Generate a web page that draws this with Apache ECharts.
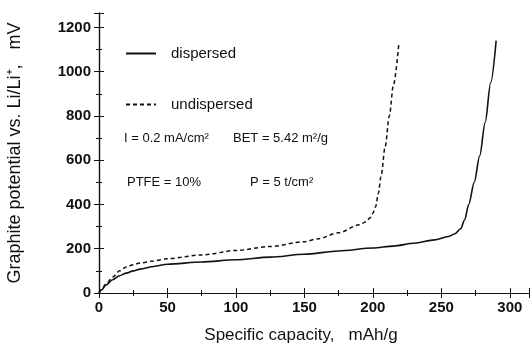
<!DOCTYPE html>
<html>
<head>
<meta charset="utf-8">
<script src="https://cdn.jsdelivr.net/npm/echarts@6/dist/echarts.min.js"></script>
<style>
  html, body { margin: 0; padding: 0; background: #fff; }
  #chart { width: 531px; height: 344px; }
</style>
</head>
<body>
<div id="chart"></div>
<script>
// capacity (mAh/g) vs potential (mV)
const dispersedX = [0, 2, 5, 10, 15, 20, 25, 30, 40, 50, 75, 100, 125, 150, 175, 200, 215, 230, 245, 255, 260, 264, 267, 270, 274, 278, 282, 286, 290]
const dispersedY = [0, 15, 35, 60, 78, 90, 100, 108, 120, 130, 140, 150, 162, 175, 190, 203, 212, 225, 240, 255, 268, 290, 330, 400, 500, 620, 770, 950, 1140]

const undispersedX = [0, 2, 5, 10, 15, 20, 25, 30, 40, 50, 75, 100, 125, 150, 160, 175, 190, 195, 198, 200, 202, 204, 206, 209, 212, 215, 219]
const undispersedY = [0, 18, 40, 72, 100, 118, 128, 136, 145, 155, 172, 192, 210, 232, 245, 272, 308, 322, 340, 360, 390, 450, 530, 662, 800, 940, 1130]

const seriesNames = ['dispersed', 'undispersed']
// conditions printed inside the plot
const notes = [
  { text: 'I = 0.2 mA/cm\u00B2', left: 124, top: 132 },
  { text: 'BET = 5.42 m\u00B2/g', left: 233, top: 132 },
  { text: 'PTFE = 10%', left: 127, top: 176 },
  { text: 'P = 5 t/cm\u00B2', left: 250, top: 176 },
]

const toPairs = (xs, ys) => xs.map((x, i) => [x, ys[i]])

const chart = echarts.init(document.getElementById('chart'))
const font = 'Liberation Sans, Arial, sans-serif'

const tick = { show: true, inside: true, length: 5, lineStyle: { color: '#111' } }
const minor = { show: true, splitNumber: 2, length: 3, lineStyle: { color: '#111' } }
const line = { show: true, lineStyle: { color: '#111', width: 1.2 } }
const tickLabel = {
  showMaxLabel: false,
  fontFamily: font,
  fontSize: 15,
  fontWeight: 'bold',
  color: '#111',
  formatter: (v) => String(v),
}

const option = {
  animation: false,
  grid: { left: 99, top: 13, right: 2, bottom: 51, outerBoundsMode: 'none' },
  legend: {
    orient: 'vertical',
    left: 125,
    top: 46,
    padding: 0,
    itemWidth: 30,
    itemHeight: 12,
    itemGap: 36,
    data: seriesNames,
    itemStyle: { opacity: 0 },
    textStyle: { fontFamily: font, fontSize: 15, color: '#111', padding: [0, 0, 0, 10] },
  },
  graphic: notes.map((n) => ({
    type: 'text',
    left: n.left,
    top: n.top,
    style: { text: n.text, font: '13px ' + font, fill: '#111' },
  })),
  xAxis: [
    {
      type: 'value',
      min: 0,
      max: 314,
      interval: 50,
      name: 'Specific capacity,   mAh/g',
      nameLocation: 'middle',
      nameGap: 34,
      nameTextStyle: { fontFamily: font, fontSize: 17, color: '#111', padding: [0, 26, 0, 0] },
      axisLine: line,
      axisTick: tick,
      minorTick: minor,
      splitLine: { show: false },
      axisLabel: { ...tickLabel, margin: 7 },
    },
    {
      type: 'value',
      position: 'top',
      min: 0,
      max: 314,
      interval: 50,
      axisLine: line,
      axisTick: tick,
      minorTick: minor,
      splitLine: { show: false },
      axisLabel: { show: false },
    },
  ],
  yAxis: [
    {
      type: 'value',
      min: 0,
      max: 1265,
      interval: 200,
      name: 'Graphite potential vs. Li/Li\u207A,   mV',
      nameLocation: 'middle',
      nameGap: 75,
      nameTextStyle: { fontFamily: font, fontSize: 18, color: '#111' },
      axisLine: line,
      axisTick: tick,
      minorTick: minor,
      splitLine: { show: false },
      axisLabel: { ...tickLabel, margin: 8 },
    },
    {
      type: 'value',
      position: 'right',
      min: 0,
      max: 1265,
      interval: 200,
      axisLine: line,
      axisTick: tick,
      minorTick: minor,
      splitLine: { show: false },
      axisLabel: { show: false },
    },
  ],
  series: [
    {
      name: seriesNames[0],
      type: 'line',
      data: toPairs(dispersedX, dispersedY),
      symbol: 'none',
      smooth: 0.3,
      smoothMonotone: 'x',
      lineStyle: { color: '#111', width: 1.6 },
      itemStyle: { color: '#111' },
    },
    {
      name: seriesNames[1],
      type: 'line',
      data: toPairs(undispersedX, undispersedY),
      symbol: 'none',
      smooth: 0.3,
      smoothMonotone: 'x',
      lineStyle: { color: '#111', width: 1.5, type: [4, 3] },
      itemStyle: { color: '#111' },
    },
  ],
}

chart.setOption(option)
</script>
</body>
</html>
